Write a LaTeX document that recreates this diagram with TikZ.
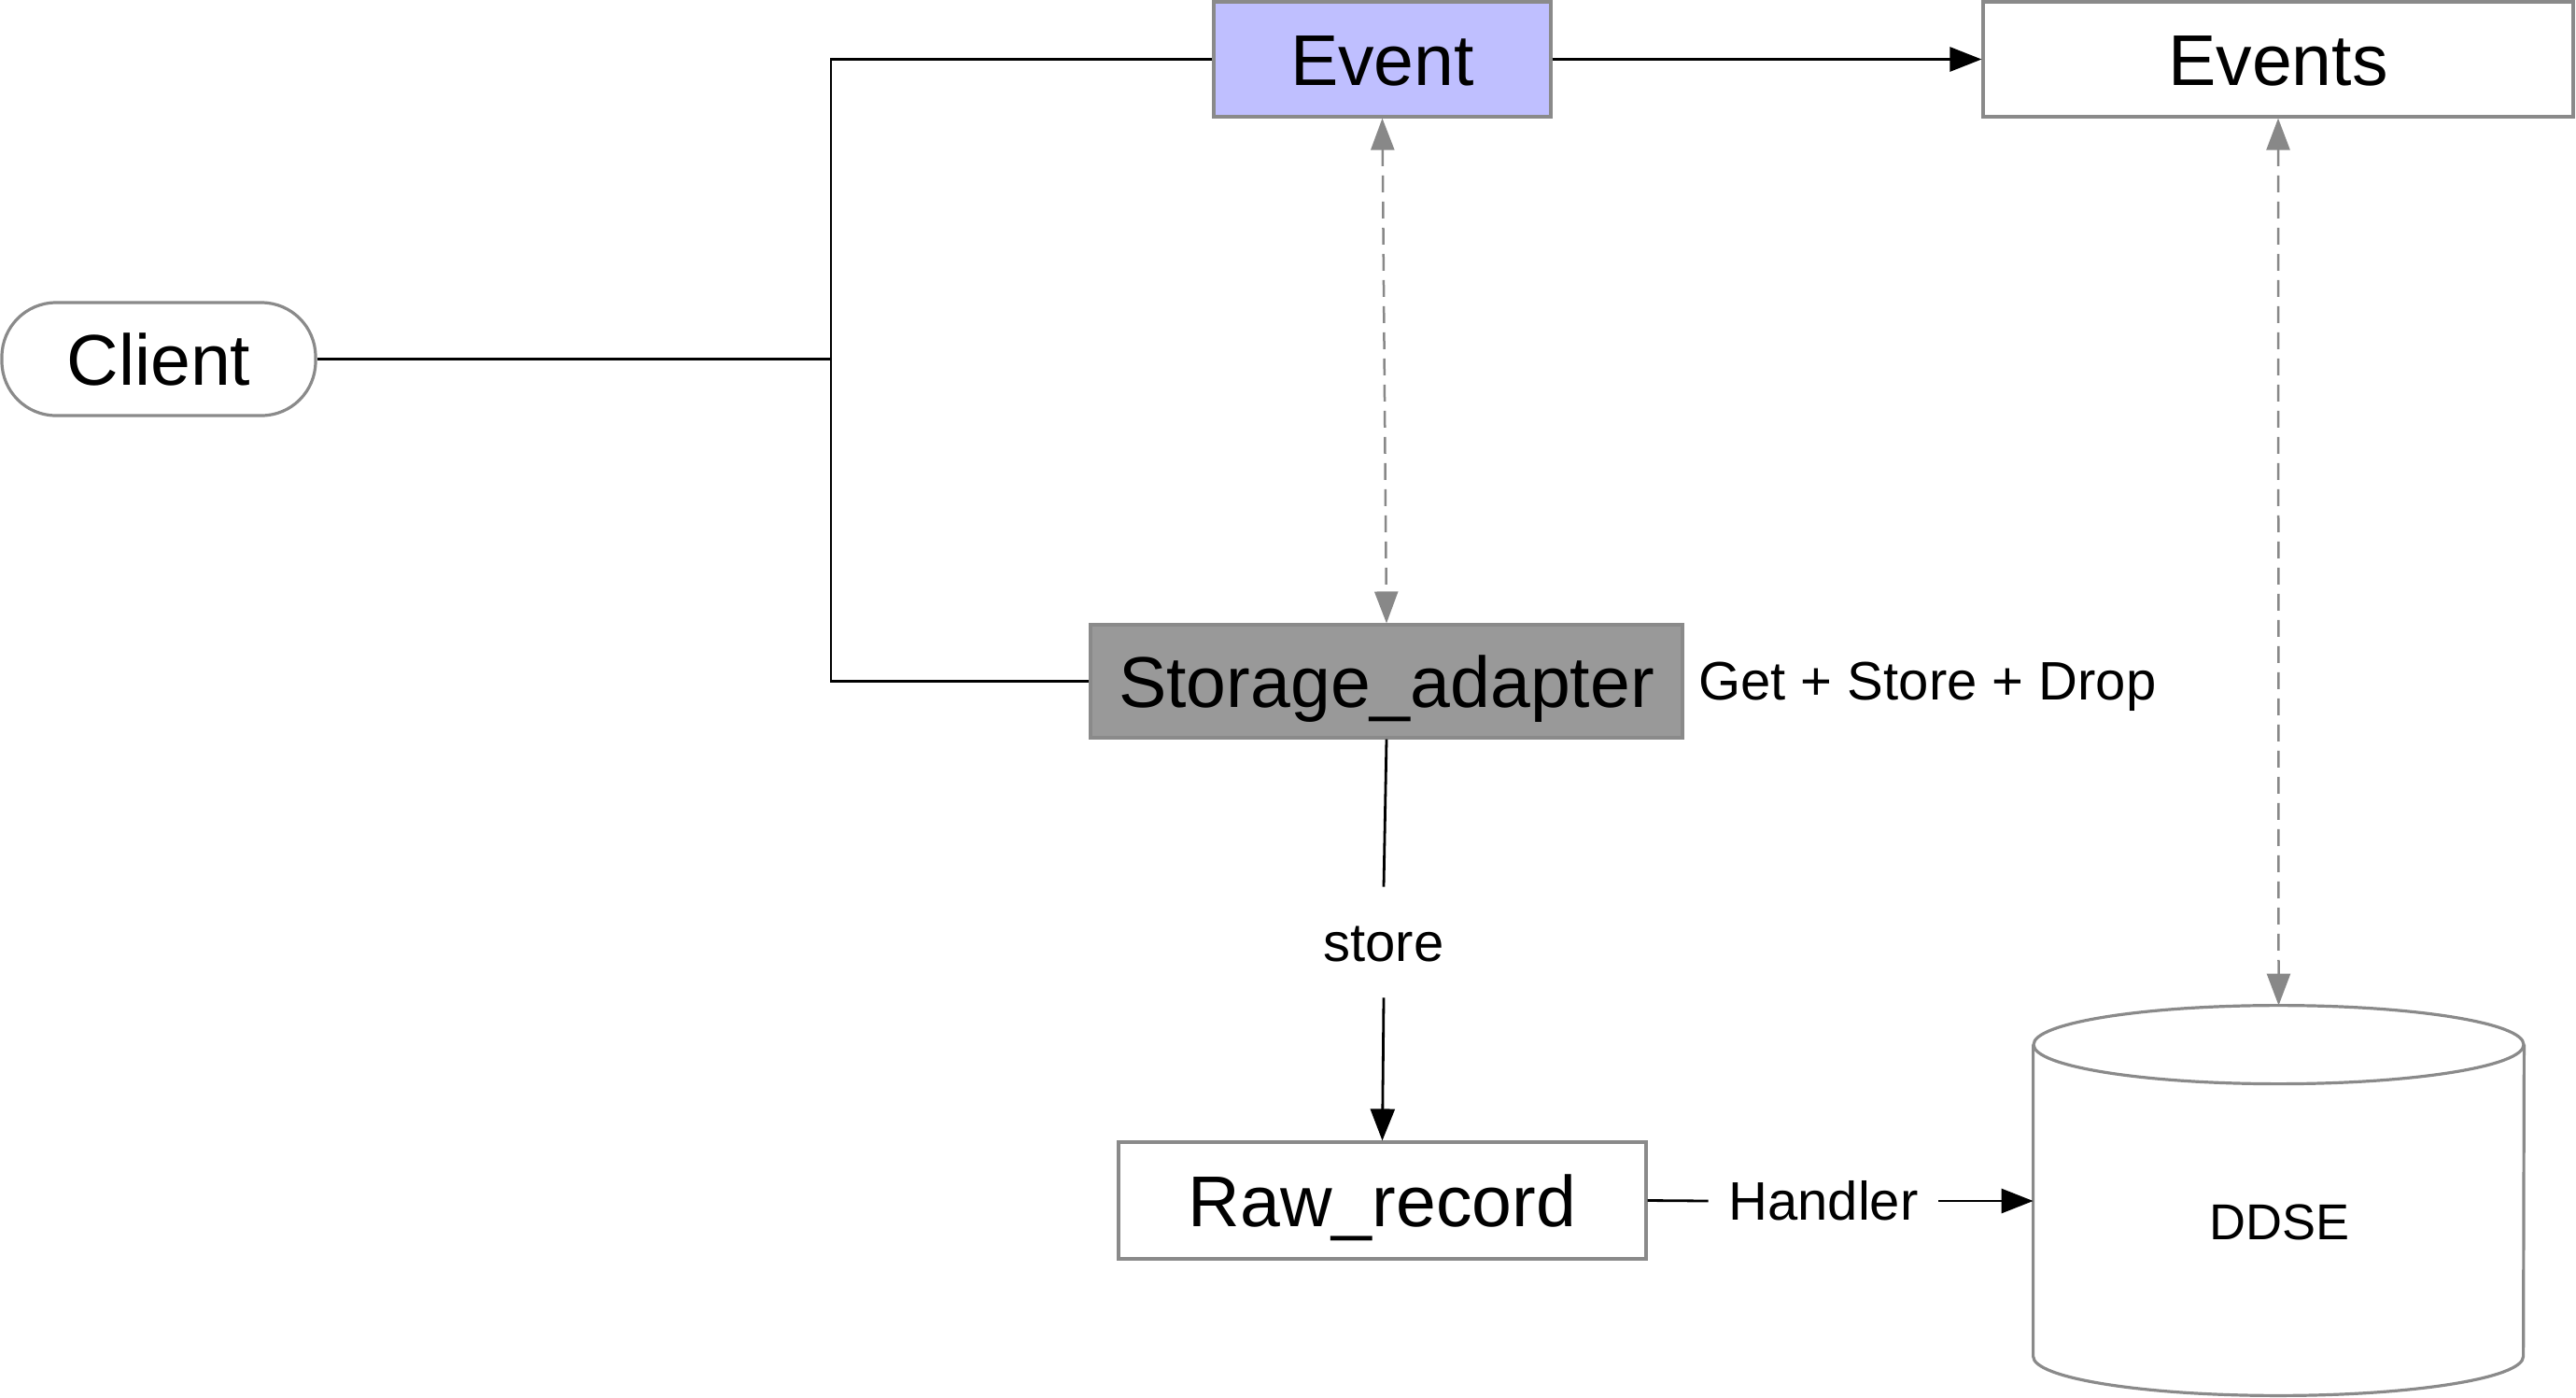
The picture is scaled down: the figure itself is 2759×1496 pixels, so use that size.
\documentclass[tikz,border=0pt]{standalone}
\usepackage{fontspec}
\setmainfont{Liberation Sans}
\usetikzlibrary{arrows.meta}
\definecolor{bordergray}{HTML}{8A8A8A}
\definecolor{eventfill}{HTML}{BFBFFF}
\definecolor{storefill}{HTML}{999999}
\definecolor{dashgray}{HTML}{888888}
\begin{document}
\begin{tikzpicture}[x=0.5pt,y=-0.5pt,
  box/.style={draw=bordergray, line width=1.6pt, inner sep=0pt,
    font=\fontsize{38.5}{46}\selectfont, text height=27.6pt, text depth=0pt},
  lbl/.style={inner sep=0pt, font=\fontsize{29}{35}\selectfont, text height=20.8pt, text depth=0pt},
  flow/.style={draw=black, line width=1.4pt},
  tip/.style={-{Triangle[length=17pt,width=13pt]}},
  dashlink/.style={draw=dashgray, line width=1.25pt, dash pattern=on 9pt off 5pt,
    {Triangle[length=17pt,width=12.5pt]}-{Triangle[length=17pt,width=12.5pt]}},
  cylline/.style={draw=bordergray, line width=1.6pt, line join=round}]
\useasboundingbox (0,0) rectangle (2759,1496);

% nodes
\node[box, rounded corners=29pt, minimum width=168pt, minimum height=60.5pt] (client) at (170,384.5) {Client};
\node[box, fill=eventfill, minimum width=180.5pt, minimum height=61.5pt] (event) at (1480.5,63.5) {Event};
\node[box, minimum width=316pt, minimum height=61.5pt] (events) at (2440,63.5) {Events};
\node[box, fill=storefill, minimum width=317pt, minimum height=60.5pt] (storage) at (1485,729.5) {Storage\_adapter};
\node[box, minimum width=282.5pt, minimum height=62.5pt] (raw) at (1480.5,1285.5) {Raw\_record};

% cylinder DDSE
\node[minimum width=262.5pt, minimum height=208.5pt, inner sep=0pt] (ddse) at (2440.5,1285.5) {};
\draw[cylline] ([yshift=-21pt]ddse.north west) -- ([yshift=21pt]ddse.south west)
  arc[start angle=180, end angle=360, x radius=131.25pt, y radius=21pt]
  -- ([yshift=-21pt]ddse.north east);
\draw[cylline] ([yshift=-21pt]ddse.north) ellipse [x radius=131.25pt, y radius=21pt];
\node[inner sep=0pt, font=\fontsize{27}{32}\selectfont, text height=19.3pt, text depth=0pt] (ddselabel) at (2441.5,1308) {DDSE};

% labels
\node[lbl, anchor=west] (gsd) at (1819,728.5) {Get + Store + Drop};
\node[lbl, text height=20pt, minimum height=59pt] (store) at (1482,1009) {store};
\node[lbl, minimum width=123pt] (handler) at (1953,1286) {Handler};

% bus from client
\coordinate (busx) at (890,0);
\draw[flow] (client.east) -- (client.east -| busx);
\draw[flow] (event.west) -- (event.west -| busx) -- (storage.west -| busx) -- (storage.west);

% connectors
\draw[flow, tip] (event.east) -- (events.west);
\draw[dashlink] (event.south) -- (storage.north);
\draw[dashlink] (events.south) -- (ddse.north);
\draw[flow] (storage.south) -- (store.north);
\draw[flow, tip] (store.south) -- (raw.north);
\draw[flow] (raw.east) -- (handler.west);
\draw[flow, tip] (handler.east) -- (handler.east -| ddse.west);
\end{tikzpicture}
\end{document}
